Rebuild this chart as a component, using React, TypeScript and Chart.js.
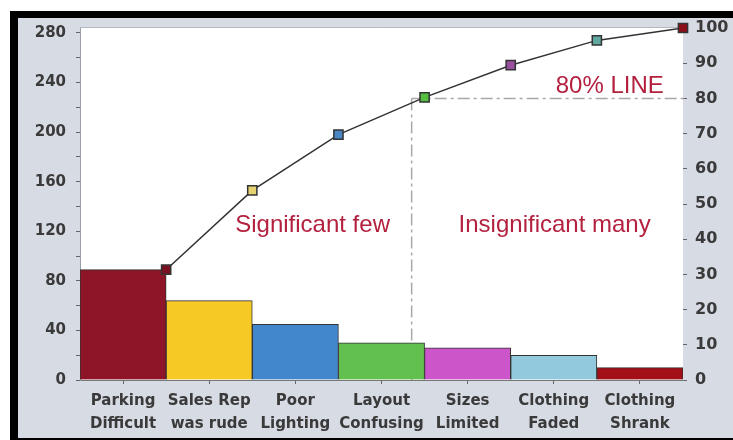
import { useEffect, useRef } from 'react';
import { Chart, registerables } from 'chart.js';

Chart.register(...registerables);

// Complaint categories, counts per category and their colours
const categories = [
  ['Parking', 'Difficult'],
  ['Sales Rep', 'was rude'],
  ['Poor', 'Lighting'],
  ['Layout', 'Confusing'],
  ['Sizes', 'Limited'],
  ['Clothing', 'Faded'],
  ['Clothing', 'Shrank'],
];
const complaintCounts = [89, 64, 45, 30, 26, 20, 10];
const barColors = ['#8e1428', '#f7c925', '#4287cc', '#62c04f', '#cc56c9', '#93c9dc', '#a30f16'];
const markerColors = ['#7a1020', '#e6d270', '#4a86c5', '#55c040', '#9a4fa0', '#5fa9a0', '#8b0f18'];

// Axis ticks
const countStep = 20;
const countLabelStep = 40;
const percentStep = 10;
const cutoffPercent = 80;

// Where the 80% cut-off meets the curve, in category units
const cutoffX = 3.85;

// Text labels placed in category units (x) and percent units (y)
const noteTexts = ['Significant few', 'Insignificant many', '80% LINE'];
const noteX = [2.7, 5.51, 6.15];
const noteY = [43.8, 43.8, 83.5];

const total = complaintCounts.reduce((a, b) => a + b, 0);
const cumulativePct = complaintCounts.map(
  (_, i) => (complaintCounts.slice(0, i + 1).reduce((a, b) => a + b, 0) / total) * 100
);

const PANEL = '#d7dbe4';
const TEXT = '#3a3a3a';
const NOTE = '#b3213f';

const framePlugin = {
  id: 'frame',
  beforeDraw(chart: any) {
    const { ctx, chartArea: a, width, height } = chart;
    ctx.save();
    ctx.fillStyle = PANEL;
    ctx.fillRect(0, 0, width, height);
    ctx.fillStyle = '#ffffff';
    ctx.fillRect(a.left, a.top, a.right - a.left, a.bottom - a.top);
    ctx.strokeStyle = '#b4b8c1';
    ctx.lineWidth = 1;
    ctx.beginPath();
    ctx.moveTo(a.left, a.top - 0.5);
    ctx.lineTo(a.right, a.top - 0.5);
    ctx.stroke();
    ctx.restore();
  },
};

const notesPlugin = {
  id: 'notes',
  beforeDatasetsDraw(chart: any) {
    const { ctx, chartArea: a } = chart;
    const x2 = chart.scales.x2;
    const y1 = chart.scales.y1;
    const px = x2.getPixelForValue(cutoffX);
    const py = y1.getPixelForValue(cutoffPercent);
    ctx.save();
    ctx.strokeStyle = '#a8a8a8';
    ctx.lineWidth = 1.5;
    ctx.setLineDash([12, 4, 3, 4]);
    ctx.beginPath();
    ctx.moveTo(px, py);
    ctx.lineTo(a.right + 4, py);
    ctx.moveTo(px, py);
    ctx.lineTo(px, a.bottom);
    ctx.stroke();
    ctx.restore();
  },
  afterDatasetsDraw(chart: any) {
    const { ctx } = chart;
    const x2 = chart.scales.x2;
    const y1 = chart.scales.y1;
    ctx.save();
    ctx.fillStyle = NOTE;
    ctx.font = '24px "Liberation Sans", Arial, sans-serif';
    ctx.textAlign = 'center';
    ctx.textBaseline = 'middle';
    noteTexts.forEach((t, i) => {
      ctx.fillText(t, x2.getPixelForValue(noteX[i]), y1.getPixelForValue(noteY[i]));
    });
    ctx.restore();
  },
};

const noEdgePadding = (s: any) => {
  s.paddingTop = 0;
  s.paddingBottom = 0;
  s.paddingLeft = 0;
  s.paddingRight = 0;
};

export default function App() {
  const canvasRef = useRef<HTMLCanvasElement>(null);

  useEffect(() => {
    const canvas = canvasRef.current;
    if (!canvas) return;
    const chart = new Chart(canvas, {
      type: 'bar',
      data: {
        labels: categories,
        datasets: [
          {
            type: 'line',
            label: 'Cumulative %',
            data: cumulativePct.map((p, i) => ({ x: i + 1, y: p })),
            xAxisID: 'x2',
            yAxisID: 'y1',
            borderColor: '#333333',
            borderWidth: 1.5,
            pointStyle: 'rect',
            pointRadius: 6.5,
            pointBorderWidth: 1.5,
            pointBorderColor: '#333333',
            pointBackgroundColor: markerColors,
            tension: 0,
            clip: false,
            order: 0,
          } as any,
          {
            type: 'bar',
            label: 'Complaints',
            data: complaintCounts,
            xAxisID: 'x',
            yAxisID: 'y',
            backgroundColor: barColors,
            borderColor: '#333333',
            borderWidth: 1,
            barPercentage: 1,
            categoryPercentage: 1,
            grouped: false,
            order: 1,
          },
        ],
      },
      options: {
        responsive: false,
        animation: false,
        devicePixelRatio: 1,
        layout: { padding: { top: 10, left: 0, right: 0, bottom: 0 } },
        plugins: {
          legend: { display: false },
          tooltip: { enabled: false },
        },
        scales: {
          x: {
            type: 'category',
            offset: true,
            grid: {
              display: true,
              drawOnChartArea: false,
              drawTicks: true,
              tickLength: 4,
              offset: false,
              color: '#666666',
            },
            border: { display: true, color: '#777777' },
            ticks: {
              color: TEXT,
              font: { family: '"DejaVu Sans", sans-serif', size: 15, weight: 'bold', lineHeight: 1.5 },
              padding: 6,
              maxRotation: 0,
              autoSkip: false,
            },
            afterFit: (s: any) => {
              s.height = 58;
              noEdgePadding(s);
            },
          },
          x2: {
            type: 'linear',
            display: false,
            min: 0,
            max: categories.length,
            offset: false,
          },
          y: {
            type: 'linear',
            position: 'left',
            min: 0,
            max: total,
            grid: { drawOnChartArea: false, drawTicks: true, tickLength: 4, color: '#666666' },
            border: { display: true, color: '#9a9ea6' },
            ticks: {
              stepSize: countStep,
              includeBounds: false,
              color: TEXT,
              padding: 10,
              font: { family: '"DejaVu Sans", sans-serif', size: 15, weight: 'bold' },
              callback: (v: any) => (Number(v) % countLabelStep === 0 ? String(v) : ''),
            },
            afterFit: (s: any) => {
              s.width = 62;
              noEdgePadding(s);
            },
          },
          y1: {
            type: 'linear',
            position: 'right',
            min: 0,
            max: 100,
            grid: { drawOnChartArea: false, drawTicks: true, tickLength: 4, color: '#666666' },
            border: { display: false },
            ticks: {
              stepSize: percentStep,
              color: TEXT,
              padding: 8,
              font: { family: '"DejaVu Sans", sans-serif', size: 16, weight: 'bold' },
            },
            afterFit: (s: any) => {
              s.width = 50;
              noEdgePadding(s);
            },
          },
        },
      },
      plugins: [framePlugin, notesPlugin],
    });
    return () => chart.destroy();
  }, []);

  return (
    <div
      style={{
        position: 'fixed',
        left: 10,
        top: 11,
        width: 740,
        height: 429,
        background: '#000000',
      }}
    >
      <canvas
        ref={canvasRef}
        width={715}
        height={420}
        style={{ position: 'absolute', left: 8, top: 7, width: 715, height: 420, display: 'block' }}
      />
    </div>
  );
}
